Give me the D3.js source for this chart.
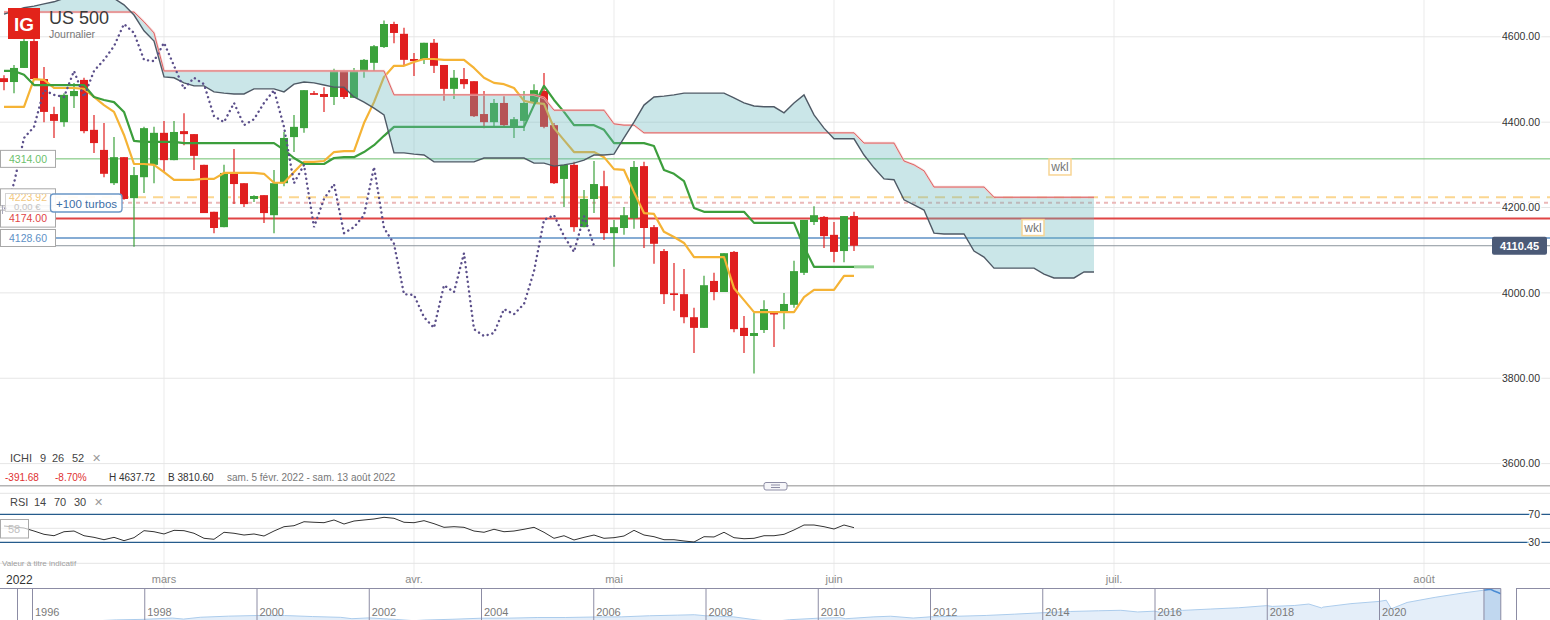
<!DOCTYPE html>
<html>
<head>
<meta charset="utf-8">
<style>
html, body { margin: 0; padding: 0; background: #fff; overflow: hidden; }
svg { display: block; font-family: "Liberation Sans", Arial, sans-serif; }
</style>
</head>
<body>
<svg id="chart" width="1550" height="620"></svg>
<script src="https://d3js.org/d3.v7.min.js"></script>
<script>
// --- données (US 500, journalier) ---
const opens = [4503,4494,4527,4590,4501,4419,4400,4461,4499,4382,
  4335,4257,4318,4222,4271,4300,4375,4311,4379,4372,
  4300,4190,4154,4281,4257,4220,4229,4182,4257,4365,
  4386,4468,4466,4459,4520,4457,4520,4539,4576,4630,
  4607,4548,4548,4586,4534,4478,4501,4496,4419,4400,
  4445,4389,4403,4445,4473,4393,4267,4300,4154,4220,
  4250,4140,4152,4175,4297,4154,4098,3999,3997,3943,
  3918,4028,4002,4096,3918,3899,3913,3953,3955,3972,
  4047,4166,4178,4136,4098,4180];
const highs = [4510,4534,4597,4598,4529,4436,4468,4492,4504,4417,
  4398,4365,4318,4295,4389,4389,4403,4403,4421,4372,
  4300,4190,4300,4337,4257,4229,4229,4288,4377,4417,
  4475,4473,4482,4525,4520,4527,4548,4581,4638,4635,
  4621,4562,4586,4595,4534,4522,4527,4496,4473,4454,
  4461,4412,4473,4489,4515,4398,4300,4307,4241,4309,
  4286,4171,4201,4309,4307,4159,4103,4070,4056,3965,
  4040,4047,4093,4098,3946,3953,3983,3953,4000,4075,
  4171,4203,4180,4166,4180,4190];
const lows = [4475,4468,4527,4501,4400,4363,4389,4433,4374,4328,
  4271,4253,4218,4108,4234,4257,4281,4311,4346,4288,
  4187,4140,4154,4208,4201,4213,4164,4140,4250,4330,
  4375,4464,4424,4440,4454,4457,4504,4520,4574,4585,
  4534,4508,4536,4515,4450,4454,4478,4412,4386,4389,
  4391,4363,4379,4445,4386,4255,4201,4143,4154,4187,
  4124,4061,4136,4150,4105,4068,3974,3958,3929,3859,
  3918,3983,4002,3908,3859,3811,3906,3873,3915,3965,
  4042,4159,4105,4072,4072,4098];
const closes = [4494,4527,4590,4501,4424,4403,4464,4473,4379,4351,
  4279,4318,4220,4276,4386,4375,4311,4377,4372,4321,
  4187,4152,4281,4255,4208,4227,4187,4257,4363,4389,
  4475,4464,4459,4520,4459,4520,4546,4578,4630,4609,
  4546,4543,4586,4532,4478,4504,4489,4414,4400,4445,
  4393,4407,4445,4475,4389,4257,4300,4154,4220,4255,
  4140,4154,4182,4295,4152,4115,3997,3995,3943,3918,
  4018,4002,4093,3915,3899,3906,3962,3950,3974,4051,
  4171,4182,4133,4096,4180,4110.45];

// Ichimoku 9 26 52
const tenkan = [4436,4436,4436,4501,4499,4480,4480,4480,4478,4459,
  4440,4424,4370,4302,4302,4300,4283,4265,4265,4265,
  4267,4267,4281,4281,4281,4281,4279,4258,4258,4283,
  4307,4307,4309,4330,4332,4332,4398,4447,4506,4532,
  4532,4541,4548,4548,4546,4546,4546,4527,4504,4492,
  4489,4480,4450,4445,4443,4386,4358,4330,4330,4330,
  4318,4290,4288,4236,4187,4185,4143,4131,4117,4084,
  4084,4084,4084,4011,3983,3955,3955,3955,3955,3955,
  3990,4007,4007,4007,4040,4040];
const kijun = [4520,4520,4511,4487,4487,4487,4487,4487,4487,4459,
  4452,4447,4424,4356,4354,4354,4354,4354,4351,4351,
  4351,4351,4351,4351,4351,4351,4351,4351,4335,4316,
  4302,4302,4302,4316,4318,4318,4330,4346,4368,4389,
  4389,4389,4389,4389,4389,4389,4389,4389,4389,4389,
  4389,4389,4389,4440,4485,4452,4424,4393,4393,4393,
  4382,4351,4351,4351,4351,4344,4288,4279,4262,4199,
  4190,4190,4190,4190,4190,4164,4164,4164,4164,4164,
  4108,4061,4061,4061,4061,4061,4061,4061];
const senkouA = [4658,4658,4658,4658,4658,4658,4658,4658,4658,4658,
  4658,4658,4658,4658,4635,4609,4520,4520,4520,4520,
  4520,4520,4520,4520,4520,4520,4520,4520,4520,4520,
  4520,4520,4520,4520,4520,4520,4520,4520,4520,4464,
  4464,4464,4464,4464,4464,4464,4464,4464,4464,4464,
  4464,4464,4464,4464,4457,4428,4428,4428,4428,4428,
  4428,4396,4393,4393,4375,4375,4375,4375,4375,4375,
  4375,4375,4375,4375,4375,4375,4375,4375,4375,4375,
  4375,4375,4375,4375,4375,4375,4351,4351,4351,4351,
  4309,4300,4286,4248,4248,4248,4248,4248,4248,4224,
  4224,4224,4224,4224,4224,4224,4224,4224,4224,4224];
const senkouB = [4653,4660,4668,4672,4677,4682,4690,4698,4702,4702,
  4698,4690,4675,4651,4614,4590,4506,4504,4492,4485,
  4485,4471,4468,4466,4466,4478,4478,4478,4471,4489,
  4494,4492,4487,4482,4482,4459,4447,4433,4417,4328,
  4328,4325,4323,4307,4307,4307,4307,4307,4316,4316,
  4316,4316,4316,4304,4304,4297,4300,4304,4311,4323,
  4323,4325,4363,4400,4440,4459,4461,4464,4468,4468,
  4468,4468,4468,4457,4445,4438,4436,4436,4422,4445,
  4464,4417,4386,4361,4361,4361,4323,4293,4267,4265,
  4218,4206,4194,4140,4138,4138,4138,4098,4084,4058,
  4058,4058,4058,4058,4044,4035,4035,4035,4049,4049];
const chikouShift = 26;

// RSI 14
const rsi = [53.3,51.9,50.4,46.1,41.4,39.4,45.1,46.1,39.4,37.1,
  33.7,37.1,32.3,36.6,46.6,45.1,41.9,47.1,46.6,42.9,
  35.7,34.3,44.3,42.9,40.4,41.9,39.0,46.1,52.3,53.7,
  59.4,58.6,58.0,61.9,56.1,60.4,61.9,63.3,65.7,64.3,
  58.6,58.0,60.9,56.6,51.4,52.3,51.4,46.1,44.3,48.6,
  45.1,46.1,48.6,51.4,44.3,35.7,39.4,33.3,37.1,40.4,
  35.7,36.6,39.0,47.1,40.4,38.0,33.7,33.7,31.9,30.4,
  38.0,37.6,44.3,36.6,35.1,35.7,39.4,39.4,41.4,47.6,
  54.7,54.7,52.3,49.0,54.7,50.9];
const rsiLevels = [70, 30];
const rsiGrid = [100, 50, 0];
const rsiBadge = "58";

// axes
const priceTicks = [3600, 3800, 4000, 4200, 4400, 4600];
const monthLabels = ["mars", "avr.", "mai", "juin", "juil.", "août"];
const monthIndex = [16, 41, 61, 83, 111, 142];

// niveaux horizontaux (alertes / ordres)
const levelPrices = [4314.00, 4223.92, 4211, 4174.00, 4128.60, 4110.45];
const levelLabels = ["4314.00", "4223.92", "", "4174.00", "4128.60", ""];
const lastPrice = 4110.45;
const wklIndex = [105.6, 102.9];
const wklPrice = [4295, 4153];

// navigateur historique
const navYears = [1995.6,1996,1996.5,1997,1997.5,1998,1998.5,1998.7,1999,1999.5,
  2000,2000.5,2001,2001.5,2001.7,2002,2002.5,2002.8,2003,2003.5,
  2004,2004.5,2005,2005.5,2006,2006.5,2007,2007.5,2007.8,2008,
  2008.5,2008.9,2009.2,2009.5,2010,2010.4,2010.5,2011,2011.3,2011.7,
  2012,2012.5,2013,2013.5,2014,2014.5,2015,2015.4,2015.7,2016,
  2016.1,2016.5,2017,2017.5,2018,2018.1,2018.5,2018.75,2018.98,2019,
  2019.5,2020,2020.13,2020.22,2020.5,2021,2021.5,2021.99,2022.05,2022.12,2022.17];
const navValues = [560,615,670,740,900,970,1130,1000,1230,1370,
  1450,1450,1320,1220,1050,1150,950,800,880,980,
  1110,1120,1200,1200,1260,1280,1420,1500,1550,1420,
  1280,900,700,920,1110,1180,1050,1280,1360,1130,
  1280,1360,1460,1620,1800,1960,2050,2110,1900,2000,
  1850,2100,2270,2430,2700,2600,2720,2900,2400,2510,
  2950,3230,3380,2300,3100,3750,4300,4770,4550,4350,4200];
const navTickYears = [1996,1998,2000,2002,2004,2006,2008,2010,2012,2014,2016,2018,2020];
const navWindow = [2021.87, 2022.17];

// --- échelles ---
const W = 1550;
const svg = d3.select("#chart");
const x = d3.scaleLinear().domain([0, 150]).range([4, 1504]);
const y = d3.scaleLinear().domain([3600, 4600]).range([463.6, 36.8]);
const yRsi = d3.scaleLinear().domain([30, 70]).range([542.3, 514.3]);
const navX = d3.scaleLinear().domain([1996, 2020]).range([32, 1379]);
const navY = d3.scaleLinear().domain([0, 4800]).range([627, 589]);

const defs = svg.append("defs");
defs.append("clipPath").attr("id", "mainClip")
  .append("rect").attr("x", 0).attr("y", 0).attr("width", W).attr("height", 485);
defs.append("clipPath").attr("id", "navClip")
  .append("rect").attr("x", 0).attr("y", 588.5).attr("width", 1501).attr("height", 32);
defs.append("clipPath").attr("id", "winClip")
  .append("rect").attr("x", navX(navWindow[0])).attr("y", 588.5)
  .attr("width", navX(navWindow[1]) - navX(navWindow[0])).attr("height", 32);

// grilles
svg.append("g").selectAll("line").data(monthIndex).join("line")
  .attr("x1", d => x(d)).attr("x2", d => x(d))
  .attr("y1", 0).attr("y2", 588)
  .attr("stroke", "#ebebeb").attr("stroke-width", 1);

svg.append("g").selectAll("line").data(priceTicks).join("line")
  .attr("x1", 0).attr("x2", W)
  .attr("y1", d => y(d)).attr("y2", d => y(d))
  .attr("stroke", "#e6e6e6").attr("stroke-width", 1);

svg.append("g").selectAll("line").data(rsiGrid).join("line")
  .attr("x1", 0).attr("x2", W)
  .attr("y1", d => yRsi(d)).attr("y2", d => yRsi(d))
  .attr("stroke", "#e4e4e4").attr("stroke-width", 1);

const main = svg.append("g").attr("clip-path", "url(#mainClip)");

// niveaux horizontaux
const levelStyle = [
  { c: "#6cbf6c", w: 1, d: null },
  { c: "#fbd690", w: 2, d: "10,7" },
  { c: "#ebb8b8", w: 2, d: "4,4" },
  { c: "#e04545", w: 2, d: null },
  { c: "#5e90c6", w: 1.3, d: null },
  { c: "#8b949c", w: 1, d: null }
];
main.append("g").selectAll("line").data(levelPrices).join("line")
  .attr("x1", 0).attr("x2", W)
  .attr("y1", d => y(d)).attr("y2", d => y(d))
  .attr("stroke", (d, i) => levelStyle[i].c)
  .attr("stroke-width", (d, i) => levelStyle[i].w)
  .attr("stroke-dasharray", (d, i) => levelStyle[i].d);

// bougies
const idx = d3.range(closes.length);
const up = "#3ba23b", down = "#e01f1f";
const candles = main.append("g");
candles.selectAll("line").data(idx).join("line")
  .attr("x1", i => x(i)).attr("x2", i => x(i))
  .attr("y1", i => y(highs[i])).attr("y2", i => y(lows[i]))
  .attr("stroke", i => closes[i] >= opens[i] ? up : down)
  .attr("stroke-width", 1.2);
candles.selectAll("rect").data(idx).join("rect")
  .attr("x", i => x(i) - 4).attr("width", 8)
  .attr("y", i => y(Math.max(opens[i], closes[i])))
  .attr("height", i => Math.max(1.5, Math.abs(y(opens[i]) - y(closes[i]))))
  .attr("fill", i => closes[i] >= opens[i] ? up : down);

// tenkan / kijun
const line = d3.line().x(d => x(d[0])).y(d => y(d[1]));
main.append("path")
  .datum(tenkan.map((v, i) => [i, v]))
  .attr("d", line).attr("fill", "none")
  .attr("stroke", "#f5b335").attr("stroke-width", 2.2).attr("stroke-linejoin", "round");
main.append("path")
  .datum(kijun.slice(0, closes.length).map((v, i) => [i, v]))
  .attr("d", line).attr("fill", "none")
  .attr("stroke", "#3c9e3c").attr("stroke-width", 2.2).attr("stroke-linejoin", "round");
main.append("path")
  .datum(kijun.map((v, i) => [i, v]).slice(closes.length - 1))
  .attr("d", line).attr("fill", "none")
  .attr("stroke", "#7cc87c").attr("stroke-width", 3).attr("opacity", 0.8);

// nuage
const sIdx = d3.range(senkouA.length);
main.append("path")
  .datum(sIdx)
  .attr("d", d3.area().x(i => x(i)).y0(i => y(senkouA[i])).y1(i => y(senkouB[i])))
  .attr("fill", "#66b6be").attr("fill-opacity", 0.35);
main.append("path")
  .datum(senkouA.map((v, i) => [i, v]))
  .attr("d", line).attr("fill", "none")
  .attr("stroke", "#f3c6c6").attr("stroke-width", 2.4).attr("opacity", 0.7);
main.append("path")
  .datum(senkouA.map((v, i) => [i, v]))
  .attr("d", line).attr("fill", "none")
  .attr("stroke", "#de6464").attr("stroke-width", 1);
main.append("path")
  .datum(senkouB.map((v, i) => [i, v]))
  .attr("d", line).attr("fill", "none")
  .attr("stroke", "#4f5a66").attr("stroke-width", 1.4);

// chikou : clôtures décalées de 26 séances
main.append("path")
  .datum(closes.slice(chikouShift).map((v, i) => [i, v]))
  .attr("d", line).attr("fill", "none")
  .attr("stroke", "#5b4f8a").attr("stroke-width", 2.4)
  .attr("stroke-linecap", "round").attr("stroke-dasharray", "0.1,4.8");

// étiquettes wkl
const wkl = svg.append("g").selectAll("g").data(wklIndex).join("g")
  .attr("transform", (d, i) => `translate(${x(d)},${y(wklPrice[i])})`);
wkl.append("rect").attr("x", -11).attr("y", -8).attr("width", 22).attr("height", 16)
  .attr("fill", "#fff").attr("stroke", "#f8d594").attr("stroke-width", 1.5);
wkl.append("text").attr("text-anchor", "middle").attr("dy", "0.35em")
  .attr("font-size", 12).attr("fill", "#777").text("wkl");

// axe des prix à droite
svg.append("g").selectAll("text").data(priceTicks).join("text")
  .attr("x", 1540).attr("y", d => y(d)).attr("dy", "0.35em")
  .attr("text-anchor", "end").attr("font-size", 10.5).attr("fill", "#333")
  .attr("stroke", "#fff").attr("stroke-width", 3).attr("paint-order", "stroke")
  .text(d => d3.format(".2f")(d));

const lp = svg.append("g").attr("transform", `translate(1492,${y(lastPrice)})`);
lp.append("rect").attr("x", 0).attr("y", -9).attr("width", 55).attr("height", 18)
  .attr("rx", 2).attr("fill", "#4b5a77");
lp.append("text").attr("x", 27.5).attr("dy", "0.36em").attr("text-anchor", "middle")
  .attr("font-size", 11).attr("font-weight", "bold").attr("fill", "#fff")
  .text(d3.format(".2f")(lastPrice));

// étiquettes des niveaux à gauche
const levelText = ["#6cbf6c", "#f3c77c", "", "#e04545", "#5e90c6", ""];
const lv = svg.append("g").selectAll("g")
  .data(levelPrices.map((p, i) => i).filter(i => levelLabels[i] !== ""))
  .join("g").attr("transform", i => `translate(0.5,${y(levelPrices[i])})`);
lv.append("rect").attr("x", 0).attr("y", -8.5).attr("width", 55).attr("height", 17)
  .attr("fill", "#fff").attr("stroke", "#a8a8a8");
lv.append("text").attr("x", 27.5).attr("dy", "0.36em").attr("text-anchor", "middle")
  .attr("font-size", 10.5).attr("fill", i => levelText[i]).text(i => levelLabels[i]);

// widget turbos (par-dessus l'étiquette 4223.92, qui reste lisible)
const tb = svg.append("g");
tb.append("rect").attr("x", 5.5).attr("y", 201).attr("width", 45).attr("height", 11)
  .attr("fill", "#fff").attr("fill-opacity", 0.85);
tb.append("rect").attr("x", 5.5).attr("y", 193.5).attr("width", 45).attr("height", 18)
  .attr("fill", "none").attr("stroke", "#d4d4d4");
tb.append("text").attr("x", 14).attr("y", 209.5).attr("font-size", 9.5)
  .attr("fill", "#c4c4c4").text("0,00 €");
tb.append("rect").attr("x", 50.5).attr("y", 194).attr("width", 71.5).attr("height", 18)
  .attr("rx", 3).attr("fill", "#fff").attr("fill-opacity", 0.92)
  .attr("stroke", "#6a96c6").attr("stroke-width", 1.3);
tb.append("text").attr("x", 56).attr("y", 207.5).attr("font-size", 11.5)
  .attr("fill", "#3b6ea6").text("+100 turbos");
tb.append("line").attr("x1", 2.5).attr("x2", 2.5).attr("y1", 205).attr("y2", 214)
  .attr("stroke", "#aab");

// en-tête
svg.append("rect").attr("x", 8).attr("y", 8).attr("width", 32).attr("height", 31)
  .attr("fill", "#e2231a");
svg.append("text").attr("x", 24).attr("y", 31).attr("text-anchor", "middle")
  .attr("font-size", 19).attr("font-weight", "bold").attr("fill", "#fff").text("IG");
svg.append("text").attr("x", 49).attr("y", 23.5).attr("font-size", 18)
  .attr("fill", "#3a3a3a").text("US 500");
svg.append("text").attr("x", 49).attr("y", 37.5).attr("font-size", 10.5)
  .attr("fill", "#777").text("Journalier");

// ligne ICHI
const ichi = svg.append("g").attr("font-size", 11).attr("fill", "#444");
[["ICHI", 10], ["9", 40], ["26", 52], ["52", 72]].forEach(([t, px]) =>
  ichi.append("text").attr("x", px).attr("y", 462).text(t));
ichi.append("text").attr("x", 92).attr("y", 462).attr("fill", "#9a9a9a").text("✕");

const stats = svg.append("g").attr("font-size", 10);
[["-391.68", 5, "#e03030"], ["-8.70%", 55, "#e03030"], ["H 4637.72", 109, "#333"],
 ["B 3810.60", 168, "#333"], ["sam. 5 févr. 2022 - sam. 13 août 2022", 227, "#777"]]
  .forEach(([t, px, c]) => stats.append("text").attr("x", px).attr("y", 481).attr("fill", c).text(t));

// séparateur des panneaux
svg.append("line").attr("x1", 0).attr("x2", W).attr("y1", 485.7).attr("y2", 485.7)
  .attr("stroke", "#b4b4b4").attr("stroke-width", 1.5);
const hd = svg.append("g");
hd.append("rect").attr("x", 764).attr("y", 482.5).attr("width", 23).attr("height", 7.5)
  .attr("rx", 2).attr("fill", "#f6f6f9").attr("stroke", "#8e8ea6");
[485, 487.5].forEach(v => hd.append("line").attr("x1", 771).attr("x2", 780)
  .attr("y1", v).attr("y2", v).attr("stroke", "#8e8ea6"));

// panneau RSI
const rs = svg.append("g").attr("font-size", 11).attr("fill", "#444");
[["RSI", 10], ["14", 34], ["70", 54], ["30", 74]].forEach(([t, px]) =>
  rs.append("text").attr("x", px).attr("y", 506).text(t));
rs.append("text").attr("x", 94).attr("y", 506).attr("fill", "#9a9a9a").text("✕");

svg.append("g").selectAll("line").data(rsiLevels).join("line")
  .attr("x1", 0).attr("x2", W)
  .attr("y1", d => yRsi(d)).attr("y2", d => yRsi(d))
  .attr("stroke", "#255b8c").attr("stroke-width", 1.2);
svg.append("g").selectAll("text").data(rsiLevels).join("text")
  .attr("x", 1540).attr("y", d => yRsi(d)).attr("dy", "0.35em")
  .attr("text-anchor", "end").attr("font-size", 10.5).attr("fill", "#333")
  .attr("stroke", "#fff").attr("stroke-width", 3).attr("paint-order", "stroke")
  .text(d => d);

svg.append("path")
  .datum(rsi.map((v, i) => [i, v]))
  .attr("d", d3.line().x(d => x(d[0])).y(d => yRsi(d[1])))
  .attr("fill", "none").attr("stroke", "#333").attr("stroke-width", 1);
svg.append("rect").attr("x", 0.5).attr("y", 519.5).attr("width", 28).attr("height", 18.5)
  .attr("fill", "#fff").attr("fill-opacity", 0.65).attr("stroke", "#aaa");
svg.append("text").attr("x", 14).attr("y", 532.5).attr("text-anchor", "middle")
  .attr("font-size", 11).attr("fill", "#c0c0c0").text(rsiBadge);

svg.append("text").attr("x", 2).attr("y", 566).attr("font-size", 8)
  .attr("fill", "#a0a0a0").text("Valeur à titre indicatif");

// axe du temps
svg.append("text").attr("x", 6).attr("y", 583.5).attr("font-size", 12)
  .attr("fill", "#333").text("2022");
svg.append("g").selectAll("text").data(monthIndex).join("text")
  .attr("x", d => x(d)).attr("y", 583).attr("text-anchor", "middle")
  .attr("font-size", 11).attr("fill", "#8a8a8a")
  .text((d, i) => monthLabels[i]);

// navigateur
const nav = svg.append("g");
const navArea = d3.area().x((d, i) => navX(navYears[i])).y0(622).y1((d, i) => navY(navValues[i]));
const navLine = d3.line().x((d, i) => navX(navYears[i])).y((d, i) => navY(navValues[i]));
nav.append("g").attr("clip-path", "url(#navClip)").call(g => {
  g.append("path").datum(navValues).attr("d", navArea).attr("fill", "#e4eef9");
  g.append("path").datum(navValues).attr("d", navLine).attr("fill", "none")
    .attr("stroke", "#acccec").attr("stroke-width", 1);
});
nav.append("g").attr("clip-path", "url(#winClip)").call(g => {
  g.append("rect").attr("x", 0).attr("y", 588.5).attr("width", W).attr("height", 32)
    .attr("fill", "#c0d7ef");
  g.append("path").datum(navValues).attr("d", navLine).attr("fill", "none")
    .attr("stroke", "#4a8bd3").attr("stroke-width", 1.5);
});
nav.append("line").attr("x1", 0).attr("x2", navX(navWindow[1]))
  .attr("y1", 588.5).attr("y2", 588.5).attr("stroke", "#8c8ca4");
nav.append("line").attr("x1", 17.5).attr("x2", 17.5).attr("y1", 588.5).attr("y2", 620)
  .attr("stroke", "#8c8ca4");
nav.selectAll(".sep").data(navTickYears).join("line").attr("class", "sep")
  .attr("x1", d => navX(d) + 0.5).attr("x2", d => navX(d) + 0.5)
  .attr("y1", 588.5).attr("y2", 620).attr("stroke", "#8c8ca4");
nav.selectAll(".yl").data(navTickYears).join("text").attr("class", "yl")
  .attr("x", d => navX(d) + 3).attr("y", 616)
  .attr("font-size", 11).attr("fill", "#7a7a7a").text(d => d);
[navWindow[0], navWindow[1]].forEach(v => nav.append("line")
  .attr("x1", navX(v)).attr("x2", navX(v)).attr("y1", 588.5).attr("y2", 620)
  .attr("stroke", "#8c8ca4"));
nav.append("rect").attr("x", 1516.5).attr("y", 588.5).attr("width", 40).attr("height", 40)
  .attr("fill", "#fff").attr("stroke", "#8c8ca4");
</script>
</body>
</html>
